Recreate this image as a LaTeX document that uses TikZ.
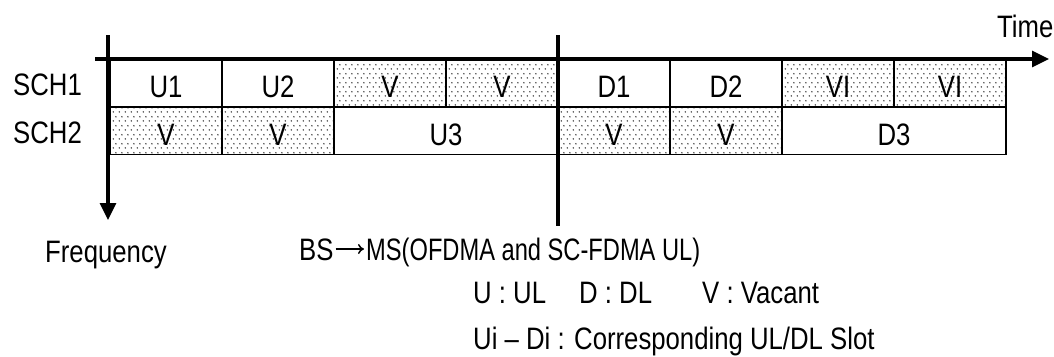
\documentclass[tikz,border=0pt]{standalone}
\usepackage{fontspec}
\setmainfont{Liberation Sans}[FakeStretch=0.83]
\usetikzlibrary{arrows.meta,patterns,calc}
\pgfdeclarepatternformonly{mydots}{\pgfqpoint{0pt}{0pt}}{\pgfqpoint{5.6pt}{8.6pt}}{\pgfqpoint{5.6pt}{8.6pt}}{%
  \pgfpathcircle{\pgfqpoint{1.4pt}{2.15pt}}{0.85pt}%
  \pgfpathcircle{\pgfqpoint{4.2pt}{6.45pt}}{0.85pt}%
  \pgfusepath{fill}}
\tikzset{
  lbl/.style={font=\fontsize{31}{36}\selectfont, inner sep=0pt, anchor=base west},
  cell/.style={draw, line width=1.8pt, minimum width=112pt, minimum height=47pt, inner sep=0pt,
    text height=28pt, text depth=0pt, font=\fontsize{31}{36}\selectfont},
  wide/.style={cell, minimum width=224pt},
  vac/.style={cell, pattern=mydots, pattern color=black!80},
  axis/.style={line width=3.3pt},
  tip/.style={-{Triangle[length=17pt,width=16pt]}},
  txtarrow/.style={line width=1.5pt, -{To[length=6pt,width=10pt]}}
}
\begin{document}
\begin{tikzpicture}[x=1pt,y=-1pt]
\useasboundingbox (0,0) rectangle (1054,356);
% row 1 (SCH1)
\node[cell] (u1) at (166,83.5) {U1};
\node[cell] (u2) at (278,83.5) {U2};
\node[vac]  (v1) at (390,83.5) {V};
\node[vac]  (v2) at (502,83.5) {V};
\node[cell] (d1) at (614,83.5) {D1};
\node[cell] (d2) at (726,83.5) {D2};
\node[vac]  (vl1) at (838,83.5) {VI};
\node[vac]  (vl2) at (950,83.5) {VI};
% row 2 (SCH2)
\node[vac]  (v3) at (166,131) {V};
\node[vac]  (v4) at (278,131) {V};
\node[wide] (u3) at (446,131) {U3};
\node[vac]  (v5) at (614,131) {V};
\node[vac]  (v6) at (726,131) {V};
\node[wide] (d3) at (894,131) {D3};
% axes
\coordinate (tS) at (95,59);
\coordinate (tE) at (1049,59);
\coordinate (fS) at (108,35);
\coordinate (fE) at (108,220);
\coordinate (mS) at (558,35);
\coordinate (mE) at (558,226);
\draw[axis,tip] (tS) -- (tE);
\draw[axis,tip] (fS) -- (fE);
\draw[axis] (mS) -- (mE);
% labels
\node[lbl] (time) at (997,37) {Time};
\node[lbl] (sch1) at (13,95) {SCH1};
\node[lbl] (sch2) at (13,143) {SCH2};
\node[lbl] (freq) at (45,262) {Frequency};
\node[lbl] (bs) at (299,260) {BS};
\node[lbl] (ms) at (366,260) {\scalebox{0.92}[1]{MS(OFDMA and SC-FDMA UL)}};
\draw[txtarrow] ($(bs.base east)+(2,-11)$) -- ($(ms.base west)+(-2,-11)$);
\node[lbl] (ul) at (473,303) {U : UL};
\node[lbl] (dl) at (579,303) {D : DL};
\node[lbl] (vc) at (702,303) {V : Vacant};
\node[lbl] (ui) at (473,349) {Ui – Di : Corresponding UL/DL Slot};
\end{tikzpicture}
\end{document}
